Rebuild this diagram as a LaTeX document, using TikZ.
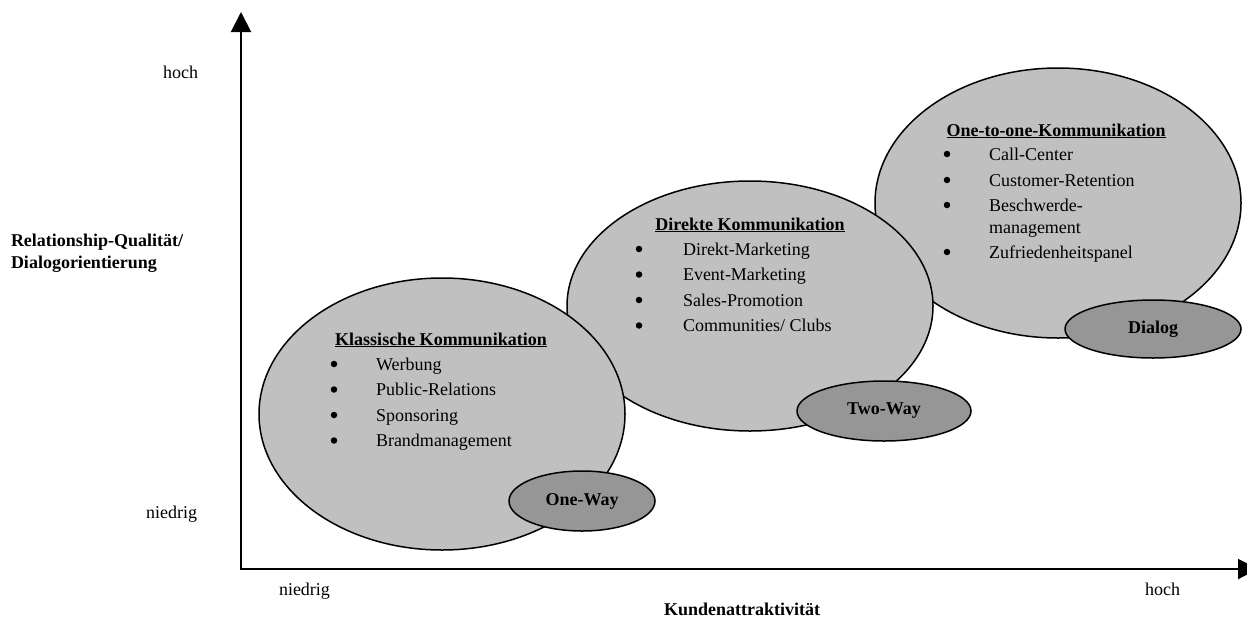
\documentclass[tikz,border=0pt]{standalone}
\usepackage{fontspec}
\setmainfont{Liberation Serif}
\usetikzlibrary{arrows.meta,shapes.geometric}
\definecolor{bigfill}{HTML}{C0C0C0}
\definecolor{smallfill}{HTML}{969696}

\begin{document}
\begin{tikzpicture}[x=1pt,y=-1pt,
  every node/.style={font=\fontsize{18}{22}\selectfont, inner sep=0pt, outer sep=0pt},
  bigell/.style={ellipse, draw=black, line width=1.5pt, fill=bigfill},
  smallell/.style={ellipse, draw=black, line width=1.5pt, fill=smallfill,
    font=\fontsize{18}{22}\selectfont\bfseries},
  axisline/.style={line width=2pt,
    {Triangle[width=20pt,length=20pt]}-{Triangle[width=20pt,length=20pt]}},
  head/.style={font=\fontsize{18}{22}\selectfont\bfseries, anchor=base},
  bold/.style={font=\fontsize{18}{22}\selectfont\bfseries},
  item/.style={anchor=base west},
  bul/.style={circle, fill=black, minimum size=6.5pt},
]
\useasboundingbox (0,0) rectangle (1247,619);

% axes
\coordinate (ytip) at (241,12);
\coordinate (O) at (241,569);
\coordinate (xtip) at (1258,569);

% large clusters (back to front)
\node[bigell, minimum width=366pt, minimum height=270pt] (oto) at (1058,203) {};
\node[bigell, minimum width=366pt, minimum height=250pt] (dir) at (750,306) {};
\node[bigell, minimum width=366pt, minimum height=272pt] (kla) at (442,414) {};

% communication mode tags
\node[smallell, minimum width=146pt, minimum height=60pt] (ow) at (582,501) {One-Way};
\node[smallell, minimum width=174pt, minimum height=60pt] (tw) at (884,411) {Two-Way};
\node[smallell, minimum width=176pt, minimum height=58pt] (dl) at (1153,329) {Dialog};

\draw[axisline] (ytip) -- (O) -- (xtip);

% axis labels
\node[anchor=base east] (yhi) at (198,78) {hoch};
\node[anchor=base east] (ylo) at (197,518) {niedrig};
\node[anchor=base west] (xlo) at (279,595) {niedrig};
\node[anchor=base east] (xhi) at (1180,595) {hoch};
\node[bold, anchor=base] (xlab) at (742,615) {Kundenattraktivität};
\node[bold, anchor=base west] (ylab1) at (11,246) {Relationship-Qualität/};
\node[bold, anchor=base west] (ylab2) at (11,268) {Dialogorientierung};

% Klassische Kommunikation
\node[head] (kh) at (441,345) {\underline{Klassische Kommunikation}};
\foreach \t [count=\i] in {Werbung, Public-Relations, Sponsoring, Brandmanagement} {
  \node[bul] (kb\i) at (334,{338.5+25.5*\i}) {};
  \node[item] (ki\i) at (376,{344.5+25.5*\i}) {\t};
}

% Direkte Kommunikation
\node[head] (dh) at (750,230) {\underline{Direkte Kommunikation}};
\foreach \t [count=\i] in {Direkt-Marketing, Event-Marketing, Sales-Promotion, Communities/ Clubs} {
  \node[bul] (db\i) at (639,{223.5+25.5*\i}) {};
  \node[item] (di\i) at (683,{229.5+25.5*\i}) {\t};
}

% One-to-one-Kommunikation
\node[head] (oh) at (1056,136) {\underline{One-to-one-Kommunikation}};
\node[bul] (ob1) at (947,154) {};
\node[item] (oi1) at (989,160) {Call-Center};
\node[bul] (ob2) at (947,180) {};
\node[item] (oi2) at (989,186) {Customer-Retention};
\node[bul] (ob3) at (947,205) {};
\node[item] (oi3) at (989,211) {Beschwerde-};
\node[item] (oi3b) at (989,233) {management};
\node[bul] (ob4) at (947,252) {};
\node[item] (oi4) at (989,258) {Zufriedenheitspanel};
\end{tikzpicture}
\end{document}
